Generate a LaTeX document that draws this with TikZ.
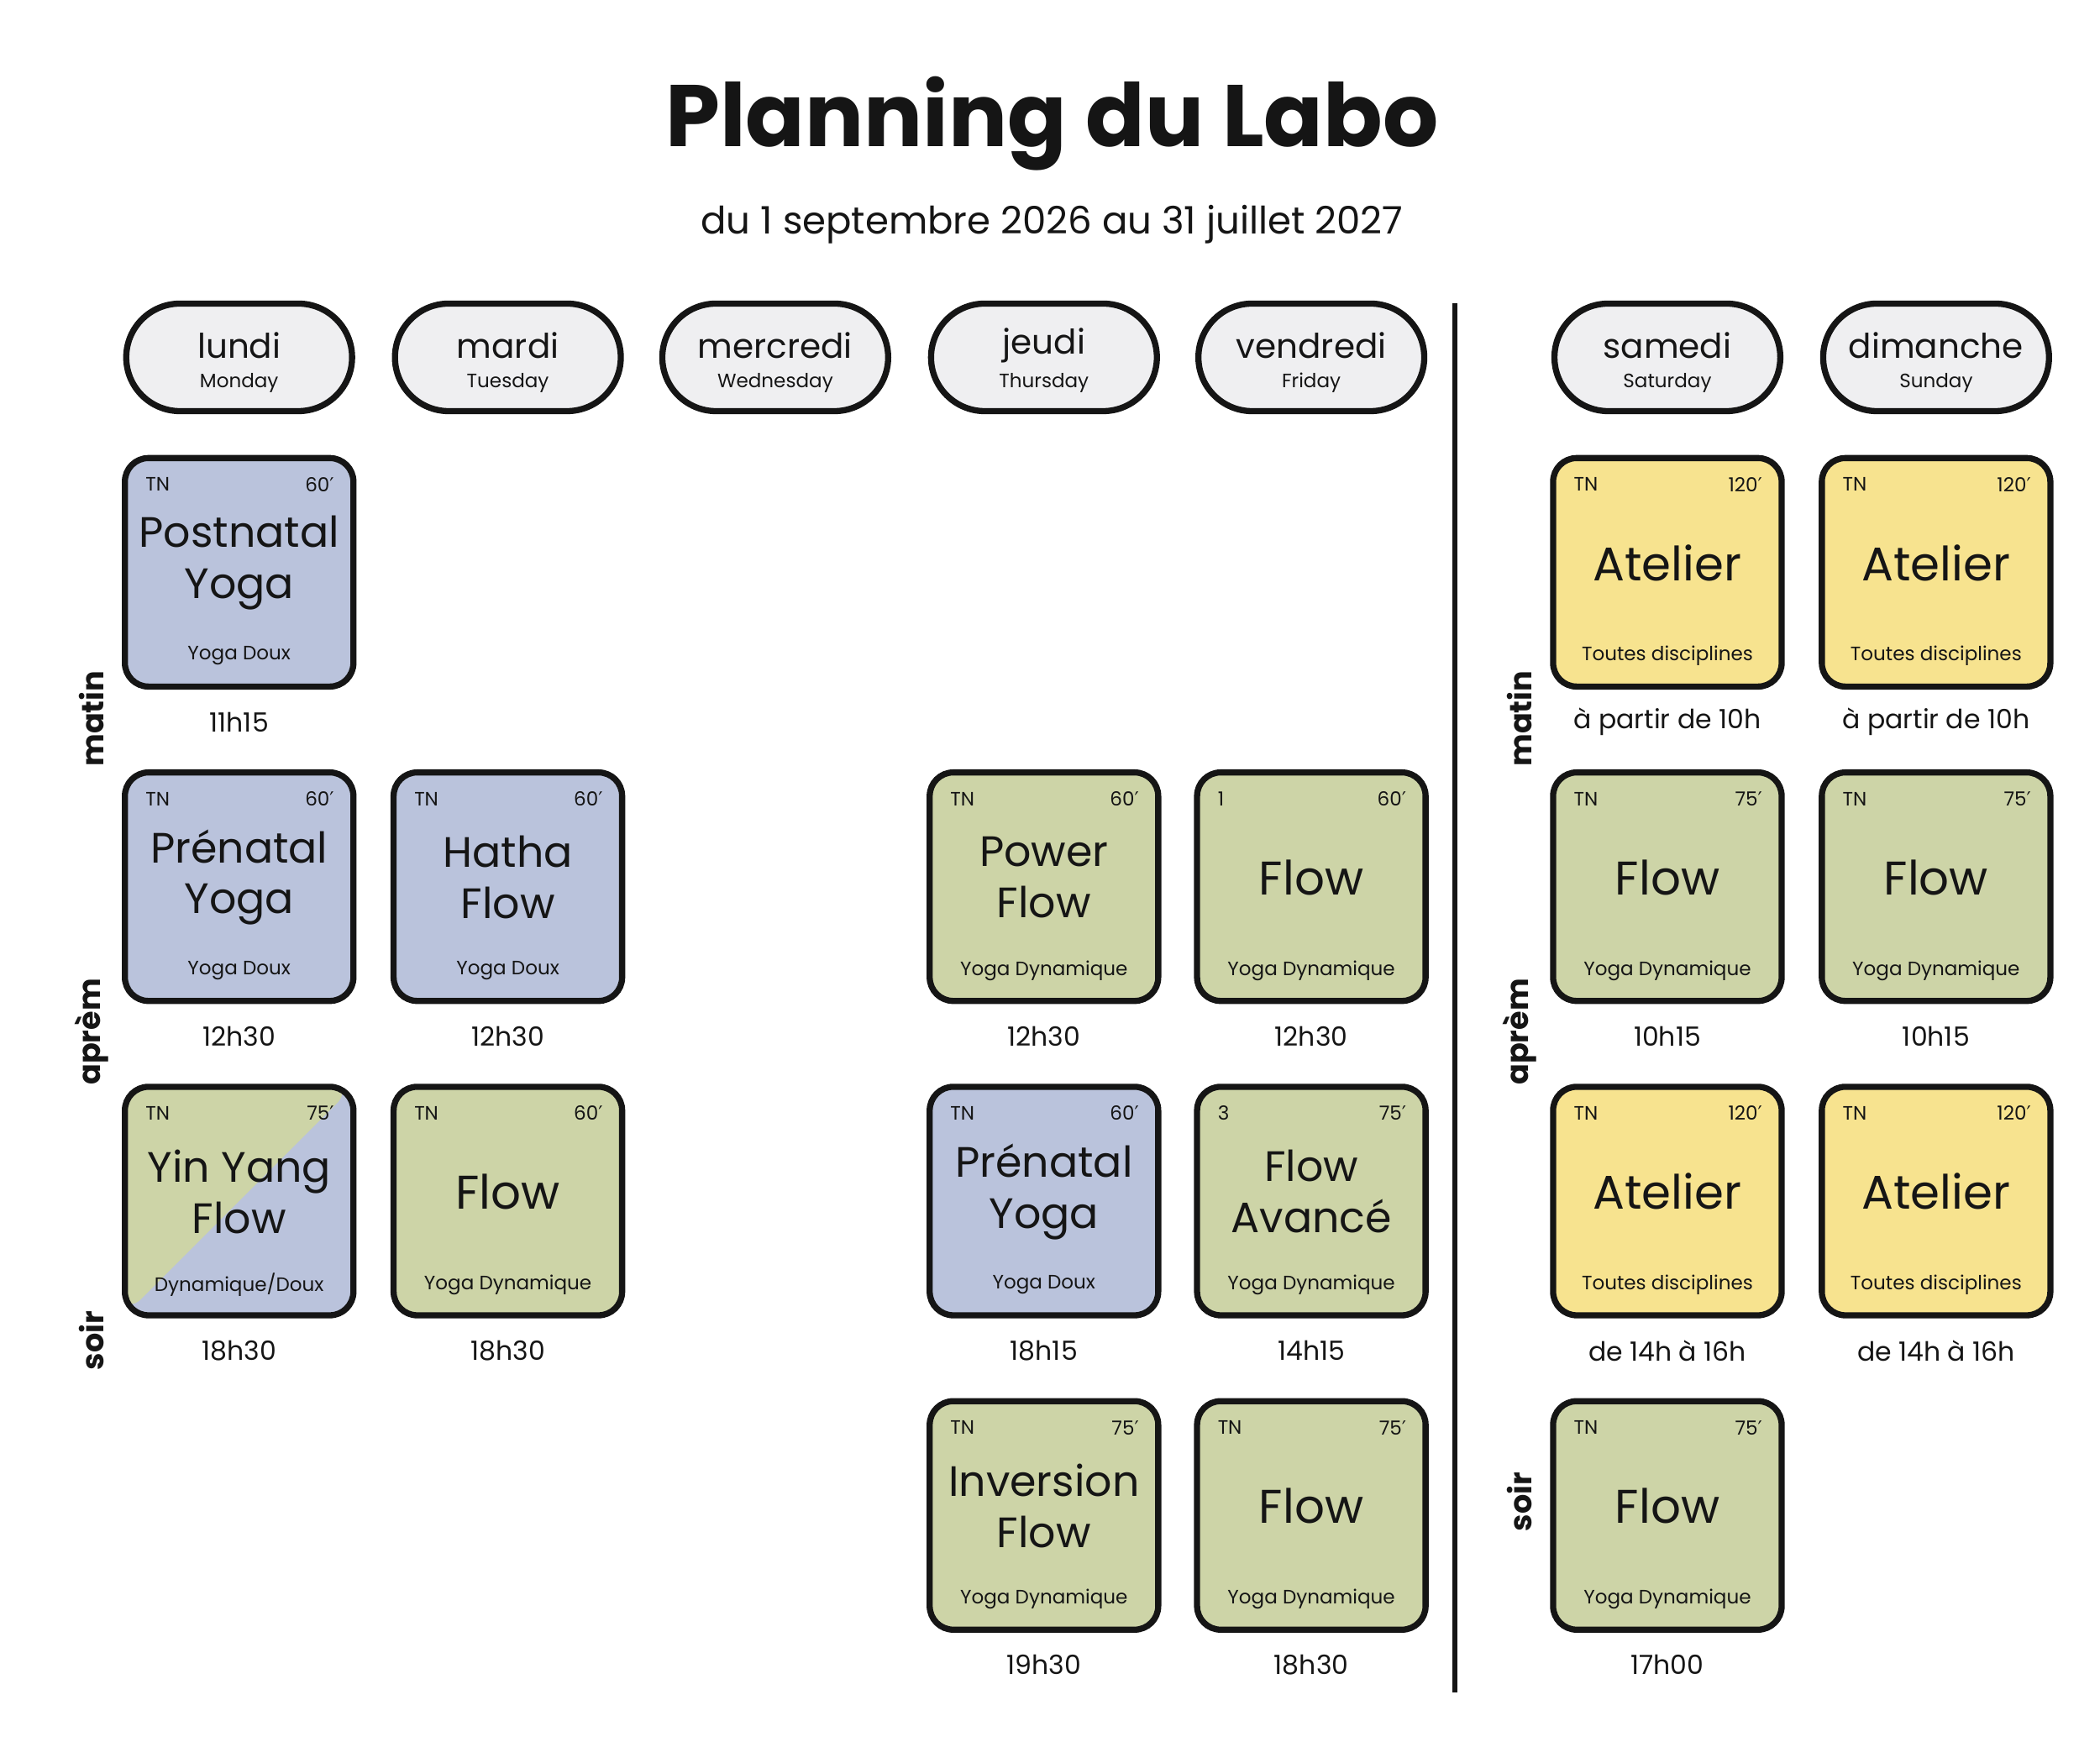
\documentclass[tikz,border=0pt]{standalone}
\usepackage{fontspec}
\setmainfont{Poppins}
\newfontfamily\djvfont{DejaVu Sans}
\newcommand{\pr}{{\djvfont ′}}
\definecolor{cblue}{HTML}{BAC3DC}
\definecolor{cgreen}{HTML}{CDD4A7}
\definecolor{cyellow}{HTML}{F7E38F}
\definecolor{cpill}{HTML}{EFEFF1}
\definecolor{ink}{HTML}{151515}
\newcommand{\fs}[1]{\fontsize{#1}{1.2\dimexpr#1pt\relax}\selectfont}
\tikzset{
 card/.style={draw=ink,line width=1.3pt,rounded corners=5pt,minimum width=1.7cm,minimum height=1.7cm,inner sep=0pt},
 blue/.style={fill=cblue}, green/.style={fill=cgreen}, yellow/.style={fill=cyellow},
 split/.style={fill=cblue,path picture={\fill[cgreen] (path picture bounding box.south west) -- (path picture bounding box.north east) -- (path picture bounding box.north west) -- cycle;}},
 pill/.style={draw=ink,line width=1.3pt,fill=cpill,rounded corners=0.4cm,minimum width=1.68cm,minimum height=0.8cm},
 small/.style={font=\fs{4.1}, text=ink, inner sep=0pt},
 ttl/.style={font=\fs{9}\linespread{0.95}, align=center, text=ink},
 big/.style={font=\fs{10}, align=center, text=ink},
 sub/.style={font=\fs{4.1}, text=ink},
 tim/.style={font=\fs{5.6}, text=ink},
 row/.style={font=\bfseries\fs{6.5}, rotate=90, text=ink}
}
\newcommand{\card}[9]{%
 \node[card,#4] (#1) at (#2,#3) {};
 \node[small,anchor=west] (#1t) at ([xshift=0.17cm,yshift=-0.22cm]#1.north west) {#5};
 \node[small,anchor=east] (#1d) at ([xshift=-0.16cm,yshift=-0.22cm]#1.north east) {#6};
 \node (#1n) at ([yshift=0.07cm]#1.center) {#7};
 \node[sub] (#1s) at ([yshift=0.25cm]#1.south) {#8};
 \node[tim] (#1h) at ([yshift=-0.24cm]#1.south) {#9};
}
\begin{document}
\begin{tikzpicture}[x=0.01cm,y=-0.01cm]
\useasboundingbox (0,0) rectangle (1563,1312);
\node[font=\bfseries\fs{18.5},text=ink] (title) at (783,92) {Planning du Labo};
\node[font=\fs{8},text=ink] (subt) at (783,167) {du 1 septembre 2026 au 31 juillet 2027};
\foreach \n/\x/\d/\e in {lu/178/lundi/Monday,ma/378/mardi/Tuesday,me/577/mercredi/Wednesday,je/777/jeudi/Thursday,ve/976/vendredi/Friday,sa/1241/samedi/Saturday,di/1441/dimanche/Sunday}{
 \node[pill] (\n) at (\x,266) {};
 \node[font=\fs{7.2},text=ink] (\n a) at (\x,257) {\d};
 \node[font=\fs{4.1},text=ink] (\n b) at (\x,285) {\e};
}
\coordinate (vt) at (1083,226); \coordinate (vb) at (1083,1260);
\draw[ink,line width=1.1pt] (vt) -- (vb);
\node[row] (lm) at (68,535) {matin};
\node[row] (la) at (68,768) {aprèm};
\node[row] (ls) at (68,998) {soir};
\node[row] (rm) at (1131,535) {matin};
\node[row] (ra) at (1131,768) {aprèm};
\node[row] (rs) at (1131,1118) {soir};
\card{c11}{178}{426}{blue}{TN}{60\pr}{\tikz[baseline]\node[ttl,inner sep=0]{Postnatal\\Yoga};}{Yoga Doux}{11h15}
\card{c12}{178}{660}{blue}{TN}{60\pr}{\tikz[baseline]\node[ttl,inner sep=0]{Prénatal\\Yoga};}{Yoga Doux}{12h30}
\card{c13}{178}{894}{split}{TN}{75\pr}{\tikz[baseline]\node[ttl,inner sep=0]{Yin Yang\\Flow};}{Dynamique/Doux}{18h30}
\card{c22}{378}{660}{blue}{TN}{60\pr}{\tikz[baseline]\node[ttl,inner sep=0]{Hatha\\Flow};}{Yoga Doux}{12h30}
\card{c23}{378}{894}{green}{TN}{60\pr}{\tikz[baseline]\node[big,inner sep=0]{Flow};}{Yoga Dynamique}{18h30}
\card{c42}{777}{660}{green}{TN}{60\pr}{\tikz[baseline]\node[ttl,inner sep=0]{Power\\Flow};}{Yoga Dynamique}{12h30}
\card{c43}{777}{894}{blue}{TN}{60\pr}{\tikz[baseline]\node[ttl,inner sep=0]{Prénatal\\Yoga};}{Yoga Doux}{18h15}
\card{c44}{777}{1128}{green}{TN}{75\pr}{\tikz[baseline]\node[ttl,inner sep=0]{Inversion\\Flow};}{Yoga Dynamique}{19h30}
\card{c52}{976}{660}{green}{1}{60\pr}{\tikz[baseline]\node[big,inner sep=0]{Flow};}{Yoga Dynamique}{12h30}
\card{c53}{976}{894}{green}{3}{75\pr}{\tikz[baseline]\node[ttl,inner sep=0]{Flow\\Avancé};}{Yoga Dynamique}{14h15}
\card{c54}{976}{1128}{green}{TN}{75\pr}{\tikz[baseline]\node[big,inner sep=0]{Flow};}{Yoga Dynamique}{18h30}
\card{c61}{1241}{426}{yellow}{TN}{120\pr}{\tikz[baseline]\node[big,inner sep=0]{Atelier};}{Toutes disciplines}{à partir de 10h}
\card{c62}{1241}{660}{green}{TN}{75\pr}{\tikz[baseline]\node[big,inner sep=0]{Flow};}{Yoga Dynamique}{10h15}
\card{c63}{1241}{894}{yellow}{TN}{120\pr}{\tikz[baseline]\node[big,inner sep=0]{Atelier};}{Toutes disciplines}{de 14h à 16h}
\card{c64}{1241}{1128}{green}{TN}{75\pr}{\tikz[baseline]\node[big,inner sep=0]{Flow};}{Yoga Dynamique}{17h00}
\card{c71}{1441}{426}{yellow}{TN}{120\pr}{\tikz[baseline]\node[big,inner sep=0]{Atelier};}{Toutes disciplines}{à partir de 10h}
\card{c72}{1441}{660}{green}{TN}{75\pr}{\tikz[baseline]\node[big,inner sep=0]{Flow};}{Yoga Dynamique}{10h15}
\card{c73}{1441}{894}{yellow}{TN}{120\pr}{\tikz[baseline]\node[big,inner sep=0]{Atelier};}{Toutes disciplines}{de 14h à 16h}
\end{tikzpicture}
\end{document}
